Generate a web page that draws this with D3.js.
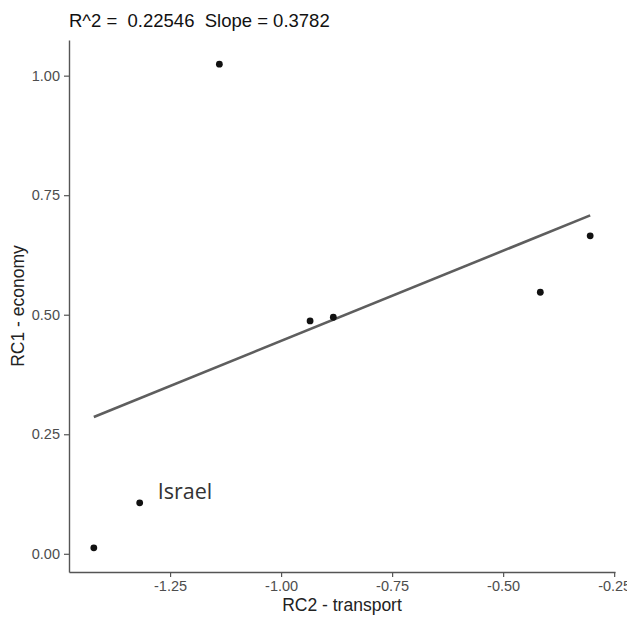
<!DOCTYPE html>
<html>
<head>
<meta charset="utf-8">
<script src="https://cdn.jsdelivr.net/npm/d3@7"></script>
<style>
  body { margin: 0; background: #fff; }
  text { font-family: "Liberation Sans", Arial, sans-serif; }
</style>
</head>
<body>
<div id="chart"></div>
<script>
// values
const transport = [-1.4217, -1.3184, -1.139, -0.9347, -0.8824, -0.4163, -0.304];
const economy = [0.0125, 0.1066, 1.024, 0.487, 0.4947, 0.547, 0.665];
const labels = ["", "Israel", "", "", "", "", ""];
const xTicks = [-1.25, -1.00, -0.75, -0.50, -0.25];
const yTicks = [0.00, 0.25, 0.50, 0.75, 1.00];
const title = "R^2 =  0.22546  Slope = 0.3782";

const width = 627, height = 621;
const margin = { top: 40, right: 12, bottom: 49, left: 69 };

const svg = d3.select("#chart").append("svg")
  .attr("width", width)
  .attr("height", height);

// ggplot style 5% padding
function expand(vals) {
  const [a, b] = d3.extent(vals);
  const w = b - a;
  return [a - 0.05 * w, b + 0.05 * w];
}

const x = d3.scaleLinear()
  .domain(expand(transport))
  .range([margin.left, width - margin.right]);

const y = d3.scaleLinear()
  .domain(expand(economy))
  .range([height - margin.bottom, margin.top]);

const points = transport.map((t, i) => ({ x: t, y: economy[i], label: labels[i] }));

// least squares fit
const mx = d3.mean(transport), my = d3.mean(economy);
const slope = d3.sum(points, d => (d.x - mx) * (d.y - my)) / d3.sum(points, d => (d.x - mx) ** 2);
const icpt = my - slope * mx;
const [x0, x1] = d3.extent(transport);

svg.append("line")
  .attr("x1", x(x0)).attr("y1", y(icpt + slope * x0))
  .attr("x2", x(x1)).attr("y2", y(icpt + slope * x1))
  .attr("stroke", "#5e5e5e")
  .attr("stroke-width", 2.6);

svg.selectAll("circle")
  .data(points)
  .enter().append("circle")
  .attr("cx", d => x(d.x))
  .attr("cy", d => y(d.y))
  .attr("r", 3.4)
  .attr("fill", "#111");

svg.selectAll(".lab")
  .data(points.filter(d => d.label))
  .enter().append("text")
  .attr("class", "lab")
  .attr("x", d => x(d.x) + 18)
  .attr("y", d => y(d.y) - 4)
  .style("font-family", "'Open Sans', sans-serif")
  .style("font-size", "21.5px")
  .attr("fill", "#333")
  .text(d => d.label);

// axes
const fmt = d => d3.format(".2f")(d).replace("\u2212", "-");

const xAxis = svg.append("g")
  .attr("transform", "translate(0," + (height - margin.bottom) + ")")
  .call(d3.axisBottom(x).tickValues(xTicks).tickFormat(fmt).tickSize(5).tickPadding(4).tickSizeOuter(0));

const yAxis = svg.append("g")
  .attr("transform", "translate(" + margin.left + ",0)")
  .call(d3.axisLeft(y).tickValues(yTicks).tickFormat(fmt).tickSize(5).tickPadding(4).tickSizeOuter(0));

[xAxis, yAxis].forEach(g => {
  g.select(".domain").attr("stroke", "#555").attr("stroke-width", 1.4);
  g.selectAll(".tick line").attr("stroke", "#555").attr("stroke-width", 1.2);
  g.selectAll(".tick text")
    .attr("fill", "#4d4d4d")
    .style("font-family", "'Liberation Sans', Arial, sans-serif")
    .style("font-size", "14.5px");
});

svg.append("text")
  .attr("x", (margin.left + width - margin.right) / 2)
  .attr("y", 611)
  .attr("text-anchor", "middle")
  .style("font-size", "17.5px")
  .attr("fill", "#222")
  .text("RC2 - transport");

svg.append("text")
  .attr("transform", "translate(24," + ((margin.top + height - margin.bottom) / 2) + ") rotate(-90)")
  .attr("text-anchor", "middle")
  .style("font-size", "17.5px")
  .attr("fill", "#222")
  .text("RC1 - economy");

svg.append("text")
  .attr("x", margin.left)
  .attr("y", 27)
  .style("font-size", "18.5px")
  .style("white-space", "pre")
  .attr("fill", "#111")
  .text(title);
</script>
</body>
</html>
